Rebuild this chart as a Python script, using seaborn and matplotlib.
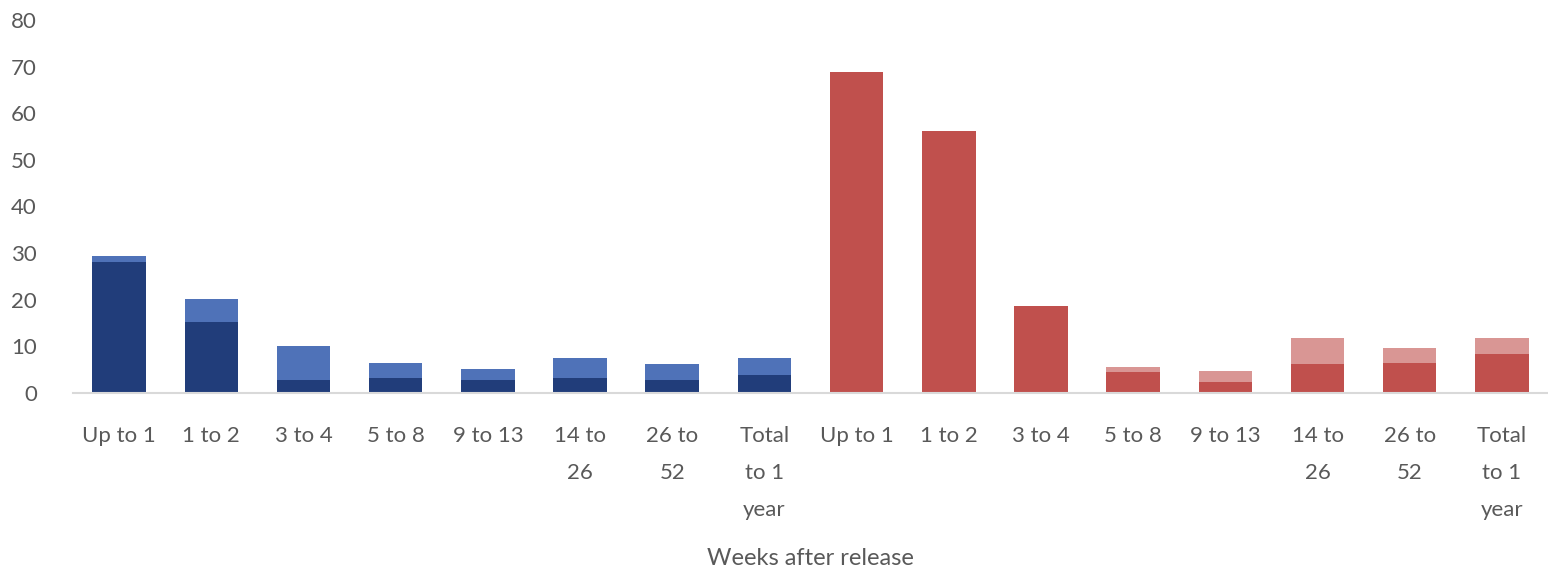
import pandas as pd
import matplotlib.pyplot as plt
import seaborn as sns

# Weeks after release, two groups of eight categories
labels = ['Up to 1', '1 to 2', '3 to 4', '5 to 8', '9 to 13', '14 to\n26', '26 to\n52', 'Total\nto 1\nyear'] * 2
group = ['blue'] * 8 + ['red'] * 8

# dark (lower) segment and total bar height
dark_vals = [28.0, 15.3, 2.8, 3.2, 2.8, 3.3, 2.8, 3.8,
             68.9, 56.3, 18.7, 4.4, 2.3, 6.2, 6.4, 8.3]
total_vals = [29.3, 20.2, 10.1, 6.5, 5.1, 7.4, 6.2, 7.4,
              68.9, 56.3, 18.7, 5.6, 4.8, 11.7, 9.6, 11.7]

df = pd.DataFrame({'pos': range(len(labels)), 'label': labels, 'group': group,
                   'dark': dark_vals, 'total': total_vals})

sns.set_theme(style='white')
plt.rcParams['font.family'] = ['Lato', 'DejaVu Sans']

fig = plt.figure(figsize=(15.48, 5.72), dpi=100)
ax = fig.add_axes([73 / 1548, 179 / 572, 1475 / 1548, 373 / 572])

# light part = whole bar, dark part drawn over it
sns.barplot(data=df, x='pos', y='total', hue='group', dodge=False, width=0.58,
            palette={'blue': '#4F72B8', 'red': '#D99694'}, legend=False,
            saturation=1, linewidth=0, ax=ax)
sns.barplot(data=df, x='pos', y='dark', hue='group', dodge=False, width=0.58,
            palette={'blue': '#213D7A', 'red': '#C0504D'}, legend=False,
            saturation=1, linewidth=0, ax=ax)

ax.set_ylim(0, 80)
ax.set_yticks(range(0, 81, 10))
ax.set_xlim(-0.5, 15.5)
ax.set_xticks(range(len(labels)))
ax.set_xticklabels(labels, linespacing=2.05, va='top')
ax.tick_params(axis='both', length=0, labelsize=16, labelcolor='#595959')
ax.tick_params(axis='x', pad=24)
ax.tick_params(axis='y', pad=26)

ax.set_xlabel('Weeks after release', fontsize=17, color='#595959', labelpad=20)
ax.set_ylabel('')

sns.despine(ax=ax, left=True)
ax.spines['bottom'].set_color('#D9D9D9')
ax.spines['bottom'].set_linewidth(1.5)

fig.savefig('out.png', dpi=100)
